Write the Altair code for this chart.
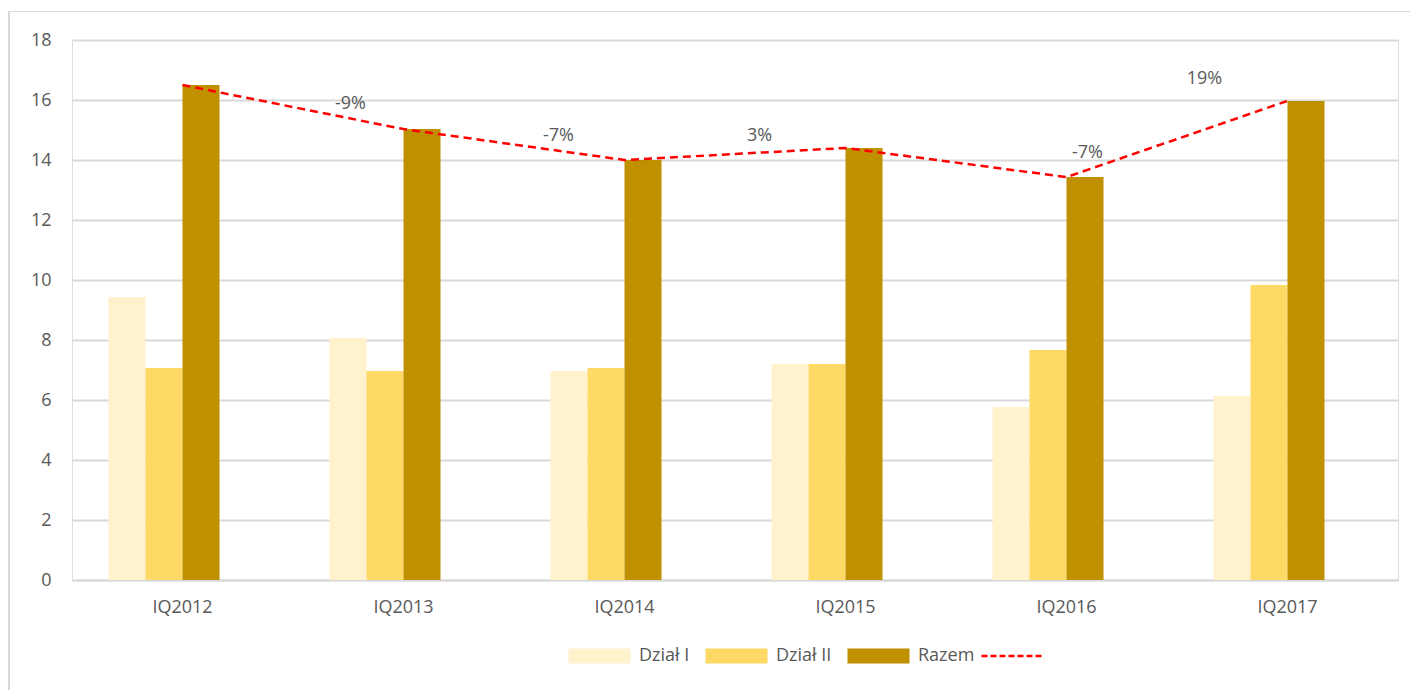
import altair as alt
import pandas as pd

categories = ["IQ2012", "IQ2013", "IQ2014", "IQ2015", "IQ2016", "IQ2017"]
dzial_1 = [9.43, 8.07, 6.97, 7.2, 5.77, 6.13]
dzial_2 = [7.07, 6.97, 7.07, 7.2, 7.67, 9.83]
razem = [16.5, 15.03, 14.0, 14.4, 13.43, 15.97]
change_labels = ["", "-9%", "-7%", "3%", "-7%", "19%"]
# per-label pixel offsets from the line point (style only)
label_dx = [0, -53, -66, -86, 21, -83]
label_dy = [0, -25, -24, -12, -24, -22]

series_names = ["Dział I", "Dział II", "Razem"]
series_colors = ["#FFF2CC", "#FFD966", "#BF9000"]
offset_domain = series_names + ["_"]

rows = []
for i, c in enumerate(categories):
    for s, vals in zip(series_names, [dzial_1, dzial_2, razem]):
        rows.append({"cat": c, "series": s, "value": vals[i]})
bars_df = pd.DataFrame(rows)
line_df = pd.DataFrame({"cat": categories, "value": razem, "lname": [" "] * len(categories)})

FONT = "Open Sans"
GRAY = "#595959"
FS = 18

x_enc = alt.X("cat:N", sort=categories, title=None,
              scale=alt.Scale(paddingInner=0.33, paddingOuter=0.165),
              axis=alt.Axis(labelAngle=0, labelFontSize=FS, labelColor=GRAY, labelFont=FONT,
                            labelPadding=18, ticks=False, domainColor="#d9d9d9", domainWidth=2,
                            grid=False))
y_scale = alt.Scale(domain=[0, 18], nice=False)
y_axis = alt.Axis(values=list(range(0, 19, 2)), labelFontSize=FS, labelColor=GRAY, labelFont=FONT,
                  labelPadding=21, ticks=False, domain=False, gridColor="#d9d9d9", gridWidth=2,
                  title=None)

bars = alt.Chart(bars_df).mark_bar().encode(
    x=x_enc,
    xOffset=alt.XOffset("series:N", scale=alt.Scale(domain=offset_domain, paddingInner=0, paddingOuter=0)),
    y=alt.Y("value:Q", scale=y_scale, axis=y_axis),
    color=alt.Color("series:N", scale=alt.Scale(domain=series_names, range=series_colors),
                    legend=alt.Legend(orient="none", legendX=495, legendY=607, direction="horizontal",
                                      title=None, symbolType="M-1,-1H7.27V1H-1Z", symbolSize=225,
                                      symbolStrokeWidth=0, labelOffset=54, labelFontSize=FS,
                                      labelColor=GRAY, labelFont=FONT, columnPadding=14)),
)

line = alt.Chart(line_df).mark_line(color="#FF0000", strokeWidth=2.5, strokeDash=[8, 5]).encode(
    x=alt.X("cat:N", sort=categories),
    y=alt.Y("value:Q", scale=y_scale),
    stroke=alt.Stroke("lname:N", scale=alt.Scale(range=["#FF0000"]),
                      legend=alt.Legend(orient="none", legendX=908, legendY=607, title=None,
                                        symbolType="M-1,0H7.4", symbolSize=225, symbolStrokeWidth=2.5,
                                        symbolDash=[6, 3], labelFontSize=FS, labelOffset=54)),
)

frame_left = alt.Chart(line_df).mark_rule(color="#d9d9d9", strokeWidth=2).encode(
    x=alt.value(-63), y=alt.value(-28.5), y2=alt.value(700))
frame_top = alt.Chart(line_df).mark_rule(color="#d9d9d9", strokeWidth=1.2).encode(
    x=alt.value(-63), x2=alt.value(1400), y=alt.value(-28.5))

layers = [frame_left, frame_top, bars, line]
for i, lab in enumerate(change_labels):
    if not lab:
        continue
    d = pd.DataFrame({"cat": [categories[i]], "value": [razem[i]], "label": [lab]})
    layers.append(
        alt.Chart(d).mark_text(font=FONT, fontSize=FS, color=GRAY, dx=label_dx[i], dy=label_dy[i]).encode(
            x=alt.X("cat:N", sort=categories),
            y=alt.Y("value:Q", scale=y_scale),
            text="label:N",
        )
    )

chart = alt.layer(*layers).resolve_scale(color="independent", stroke="independent").properties(
    width=1326, height=540,
    autosize=alt.AutoSizeParams(type="none"),
    padding={"left": 64, "top": 32, "right": 12, "bottom": 110},
).configure_view(stroke=None).configure(background="white")

chart.save("out.html", embed_options={"renderer": "svg", "actions": False})
